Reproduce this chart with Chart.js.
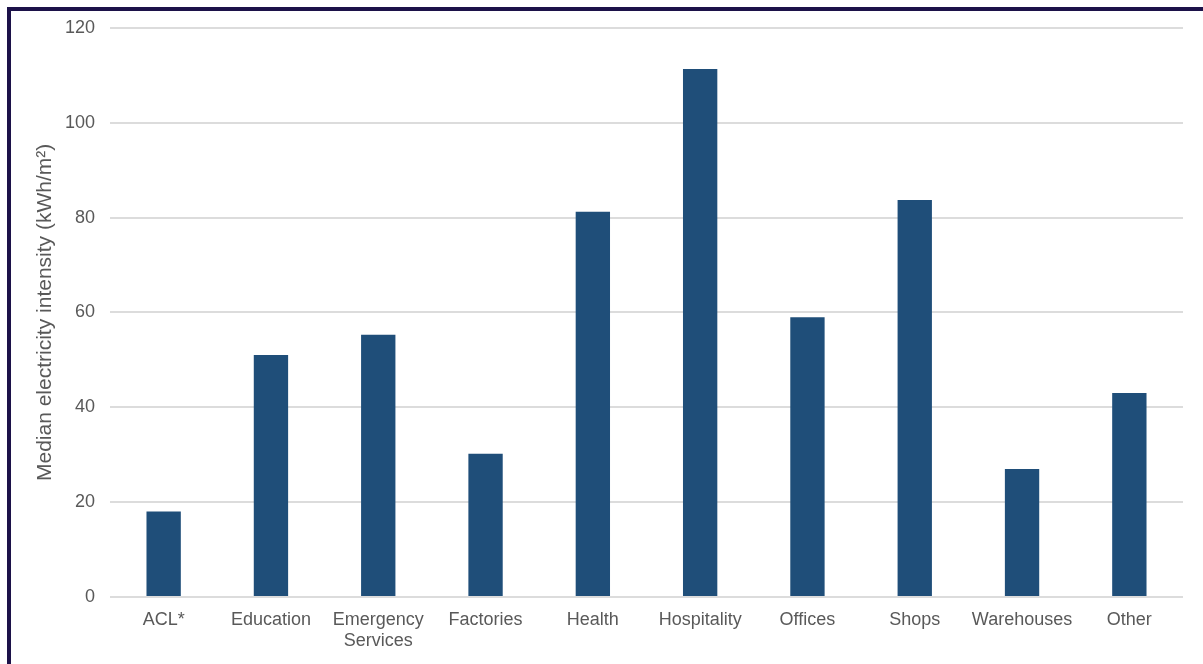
<!DOCTYPE html>
<html>
<head>
<meta charset="utf-8">
<script src="https://cdn.jsdelivr.net/npm/chart.js@4"></script>
<style>
  html, body { margin: 0; padding: 0; background: #fff; }
  #frame {
    position: absolute;
    left: 7px; top: 7px;
    width: 1196px; height: 657px;
    border-top: 4px solid #1c1249;
    border-left: 4px solid #1c1249;
    box-sizing: border-box;
  }
  /* canvas starts a little above the frame so the plot sits close to the top edge */
  #chartBox { position: absolute; left: 0; top: -9px; width: 1192px; height: 662px; }
</style>
</head>
<body>
<div id="frame">
  <div id="chartBox"><canvas id="intensityChart"></canvas></div>
</div>
<script>
// Building categories on the x axis
const categories = ['ACL*', 'Education', ['Emergency', 'Services'], 'Factories', 'Health',
  'Hospitality', 'Offices', 'Shops', 'Warehouses', 'Other'];

// Median electricity intensity, kWh/m²
const medianIntensity = [18, 51, 55.3, 30.2, 81.2, 111.3, 59, 83.7, 27, 43];

const yTicks = [0, 20, 40, 60, 80, 100, 120];

const textColor = '#595959';
const gridColor = '#dcdcdc';
const barColor = '#1f4e79';

new Chart(document.getElementById('intensityChart'), {
  type: 'bar',
  data: {
    labels: categories,
    datasets: [{
      label: 'Median electricity intensity',
      data: medianIntensity,
      backgroundColor: barColor,
      borderWidth: 0,
      categoryPercentage: 1,
      barPercentage: 0.32
    }]
  },
  options: {
    responsive: true,
    maintainAspectRatio: false,
    animation: false,
    layout: { padding: { top: 8, right: 20, bottom: 0, left: 0 } },
    plugins: {
      legend: { display: false },
      tooltip: { enabled: false }
    },
    scales: {
      x: {
        grid: { display: false, drawTicks: false },
        border: { display: false },
        ticks: {
          color: textColor,
          padding: 12,
          maxRotation: 0,
          autoSkip: false,
          font: { family: 'Liberation Sans, Arial, sans-serif', size: 18 }
        },
        afterFit: (scale) => { scale.height = 67; }
      },
      y: {
        min: 0,
        max: 120,
        afterBuildTicks: (scale) => { scale.ticks = yTicks.map(v => ({ value: v })); },
        grid: { color: gridColor, lineWidth: 2, drawTicks: false },
        border: { display: false },
        ticks: {
          color: textColor,
          padding: 15,
          font: { family: 'Liberation Sans, Arial, sans-serif', size: 18 }
        },
        title: {
          display: true,
          text: 'Median electricity intensity (kWh/m²)',
          color: textColor,
          padding: { top: 22, bottom: 0 },
          font: { family: 'Liberation Sans, Arial, sans-serif', size: 21, weight: 'normal' }
        },
        afterFit: (scale) => { scale.width = 99; }
      }
    }
  }
});
</script>
</body>
</html>
